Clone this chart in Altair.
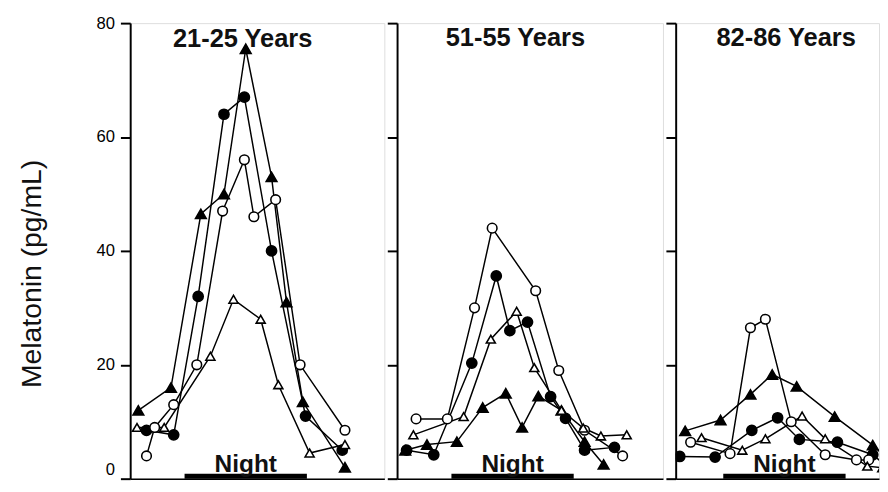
import altair as alt
import pandas as pd

FONT = "Liberation Sans"

panel_titles = ["21-25 Years", "51-55 Years", "82-86 Years"]
series_order = ["filled triangle", "filled circle", "open circle", "open triangle"]

# ---- Panel 1: 21-25 years (clock hours, 24+ = next morning) ----
p1_ftri_h = [18.6, 21.0, 23.2, 24.9, 26.5, 28.4, 29.5, 30.7, 33.8]
p1_ftri_v = [12, 16, 46.5, 50, 75.5, 53, 31, 13.5, 2]
p1_fcir_h = [19.2, 21.2, 23.0, 24.9, 26.4, 28.4, 30.9, 33.6]
p1_fcir_v = [8.5, 7.7, 32, 64, 67, 40, 11, 5]
p1_ocir_h = [19.2, 19.8, 21.2, 22.9, 24.8, 26.4, 27.1, 28.7, 30.5, 33.8]
p1_ocir_v = [4, 9, 13, 20, 47, 56, 46, 49, 20, 8.5]
p1_otri_h = [18.5, 20.5, 23.9, 25.6, 27.6, 28.9, 31.2, 33.8]
p1_otri_v = [9, 9, 21.5, 31.5, 28, 16.5, 4.5, 6]

# ---- Panel 2: 51-55 years ----
p2_ftri_h = [18.6, 20.2, 22.4, 24.3, 26.0, 27.2, 28.4, 30.1, 31.8, 33.2]
p2_ftri_v = [5, 6, 6.5, 12.5, 15, 9, 14.5, 12, 6.5, 2.5]
p2_fcir_h = [18.7, 20.7, 23.5, 25.3, 26.3, 27.6, 29.3, 30.4, 31.8, 34.0]
p2_fcir_v = [5, 4.2, 20.3, 35.6, 26, 27.5, 14.4, 10.6, 5, 5.5]
p2_ocir_h = [19.4, 21.7, 23.7, 25.0, 28.2, 29.9, 31.8, 34.6]
p2_ocir_v = [10.5, 10.5, 30, 44, 33, 19, 8.5, 4]
p2_otri_h = [19.2, 22.9, 24.9, 26.8, 28.1, 30.1, 31.7, 33.0, 34.9]
p2_otri_v = [7.7, 10.9, 24.5, 29.4, 19.5, 12, 8.9, 7.5, 7.7]

# ---- Panel 3: 82-86 years ----
p3_ftri_h = [19.2, 21.8, 24.0, 25.6, 27.4, 30.2, 33.0, 34.0]
p3_ftri_v = [8.4, 10.3, 14.8, 18.3, 16.2, 10.9, 5.9, 3.6]
p3_fcir_h = [18.8, 21.4, 24.1, 26.0, 27.6, 30.4, 33.0, 34.0]
p3_fcir_v = [3.9, 3.8, 8.5, 10.7, 6.9, 6.4, 4.2, 2.2]
p3_ocir_h = [19.6, 22.5, 24.0, 25.1, 27.0, 29.5, 31.8, 32.7]
p3_ocir_v = [6.4, 4.4, 26.5, 28, 10, 4.2, 3.3, 3.3]
p3_otri_h = [20.4, 23.4, 25.1, 27.8, 29.5, 32.6, 33.7]
p3_otri_v = [7.2, 5, 7, 11, 7, 2.2, 1.9]

# Night period (clock hours) per panel
night_start = [22.0, 22.0, 22.0]
night_end = [31.0, 31.0, 31.0]

y_ticks = [0, 20, 40, 60, 80]
x_domains = [[18, 36.7], [18, 37.57], [18.5, 33.46]]
panel_widths = [260, 272, 208]
title_dx = [-15, -15, 9]
title_offset = [-38, -29, -29]

panel_data = [
    [(p1_ftri_h, p1_ftri_v), (p1_fcir_h, p1_fcir_v), (p1_ocir_h, p1_ocir_v), (p1_otri_h, p1_otri_v)],
    [(p2_ftri_h, p2_ftri_v), (p2_fcir_h, p2_fcir_v), (p2_ocir_h, p2_ocir_v), (p2_otri_h, p2_otri_v)],
    [(p3_ftri_h, p3_ftri_v), (p3_fcir_h, p3_fcir_v), (p3_ocir_h, p3_ocir_v), (p3_otri_h, p3_otri_v)],
]

shape_scale = alt.Scale(domain=series_order,
                        range=["triangle-up", "circle", "circle", "triangle-up"])
fill_scale = alt.Scale(domain=series_order, range=["black", "black", "white", "white"])
size_scale = alt.Scale(domain=series_order, range=[120, 85, 85, 120])

H = 466


def make_panel(i):
    rows = []
    for name, (hs, vs) in zip(series_order, panel_data[i]):
        for h, v in zip(hs, vs):
            rows.append({"series": name, "hour": h, "value": v})
    df = pd.DataFrame(rows)
    night = pd.DataFrame({
        "hour": [night_start[i]],
        "hour2": [night_end[i]],
        "mid": [(night_start[i] + night_end[i]) / 2],
        "value": [0],
        "label": ["Night"],
    })

    first = i == 0
    y_axis = alt.Axis(
        values=y_ticks,
        grid=False,
        domainColor="black", domainWidth=2,
        tickColor="black", tickWidth=2, tickSize=10,
        labels=first,
        labelFontSize=17, labelColor="black", labelPadding=6, labelFont=FONT,
        labelBaseline={"condition": {"test": "datum.value === 0", "value": "bottom"},
                       "value": "middle"},
        title="Melatonin (pg/mL)" if first else None,
        titleFontSize=29, titleFontWeight="normal", titleColor="#111",
        titleFont=FONT, titlePadding=51, titleY=256,
    )
    x_axis = alt.Axis(title=None, labels=False, ticks=False, grid=False,
                      domain=True, domainColor="black", domainWidth=1.5)
    xs = alt.Scale(domain=x_domains[i], nice=False, zero=False)
    ys = alt.Scale(domain=[0, 80], nice=False)

    x = alt.X("hour:Q", scale=xs, axis=x_axis)
    y = alt.Y("value:Q", scale=ys, axis=y_axis)

    bar = alt.Chart(night).mark_rule(color="black", strokeWidth=10, clip=True).encode(
        x=x, x2="hour2:Q", y=y)
    txt = alt.Chart(night).mark_text(
        font=FONT, fontSize=25, fontWeight="bold", color="#111",
        baseline="alphabetic", align="center", dy=-7,
    ).encode(x=alt.X("mid:Q", scale=xs, axis=x_axis), y=y, text="label:N")
    lines = alt.Chart(df).mark_line(color="black", strokeWidth=1.5, clip=True).encode(
        x=x, y=y, detail="series:N", order="hour:Q")
    pts = alt.Chart(df).mark_point(filled=True, stroke="black", strokeWidth=1.6,
                                   opacity=1, clip=True).encode(
        x=x, y=y,
        shape=alt.Shape("series:N", scale=shape_scale, legend=None),
        fill=alt.Fill("series:N", scale=fill_scale, legend=None),
        size=alt.Size("series:N", scale=size_scale, legend=None),
    )
    return alt.layer(bar, txt, lines, pts).properties(
        width=panel_widths[i], height=H,
        title=alt.TitleParams(
            text=panel_titles[i], fontSize=26, fontWeight="bold", font=FONT,
            color="#111", anchor="middle", frame="group",
            offset=title_offset[i], dx=title_dx[i],
        ),
    )


chart = alt.hconcat(*[make_panel(i) for i in range(3)], spacing=0).properties(
    padding={"left": 9, "top": 0, "right": 0, "bottom": 0}
).configure_view(stroke=None).configure(font=FONT, background="white")

chart.save("out.html", embed_options={"renderer": "svg", "actions": False})
